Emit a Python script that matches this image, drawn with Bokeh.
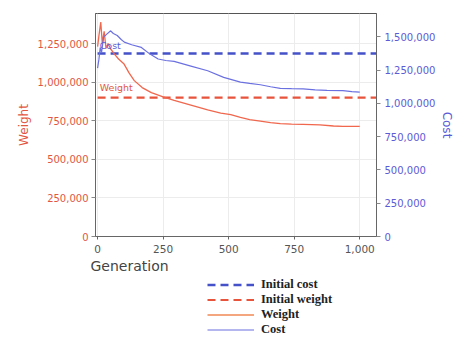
from bokeh.plotting import figure
from bokeh.layouts import column
from bokeh.models import (Range1d, LinearAxis, FixedTicker, NumeralTickFormatter,
                          Legend, LegendItem, Title, Label)
from bokeh.embed import file_html
from bokeh.resources import INLINE

# ---- data ----
gen_weight = [0, 5, 12, 18, 25, 32, 40, 50, 65, 80, 100, 120, 140, 170, 205, 250, 292,
              356, 420, 470, 508, 545, 580, 621, 660, 697, 740, 784, 848, 900, 936, 970, 1000]
weight = [1230000, 1300000, 1390000, 1250000, 1330000, 1220000, 1250000, 1215000, 1180000,
          1150000, 1120000, 1060000, 1010000, 965000, 932000, 905000, 882000, 851000, 820000,
          800000, 790000, 772000, 758000, 748000, 738000, 731000, 728000, 727000, 723000,
          716000, 713000, 714000, 714000]
gen_cost = [0, 5, 10, 15, 23, 35, 50, 60, 75, 90, 102, 130, 167, 200, 231, 260, 292, 356,
            420, 481, 545, 580, 621, 660, 697, 740, 784, 830, 875, 936, 970, 1000]
cost = [1265000, 1330000, 1420000, 1380000, 1498000, 1520000, 1545000, 1525000, 1510000,
        1480000, 1460000, 1440000, 1420000, 1370000, 1333000, 1322000, 1315000, 1280000,
        1245000, 1195000, 1160000, 1150000, 1140000, 1125000, 1113000, 1110000, 1109000,
        1102000, 1098000, 1095000, 1088000, 1085000]
initial_cost = 1375000
initial_weight = 900000
x_ticks = [0, 250, 500, 750, 1000]
weight_ticks = [0, 250000, 500000, 750000, 1000000, 1250000]
cost_ticks = [0, 250000, 500000, 750000, 1000000, 1250000, 1500000]
legend_labels = ["Initial cost", "Initial weight", "Weight", "Cost"]

X_START, X_END = -8, 1064
W_MAX = 1445000
C_MAX = 1675000

RED = "#e2573f"
RED_LINE = "#f0674d"
BLUE = "#5b5bd6"
BLUE_LINE = "#6b70e0"
BLUE_DASH = "#4451c8"
RED_DASH = "#e8533c"
ORANGE_LEG = "#f08a55"

p = figure(width=457, height=278, output_backend="svg", toolbar_location=None,
           x_range=Range1d(X_START, X_END), y_range=Range1d(0, W_MAX),
           min_border_left=95, min_border_right=79, min_border_top=13,
           min_border_bottom=42)
p.extra_y_ranges = {"cost": Range1d(0, C_MAX)}
p.background_fill_color = "white"
p.border_fill_color = "white"
p.outline_line_color = "#555555"
p.outline_line_width = 1

p.xgrid.grid_line_color = "#ececec"
p.ygrid.grid_line_color = "#ececec"

# x axis
xa = p.xaxis[0]
xa.ticker = FixedTicker(ticks=x_ticks)
xa.formatter = NumeralTickFormatter(format="0,0")
xa.major_label_text_font = "DejaVu Sans"
xa.major_label_text_font_size = "10.5px"
xa.major_label_text_color = "#555555"
xa.minor_tick_line_color = None
xa.major_tick_out = 3
xa.major_tick_in = 0
xa.major_label_standoff = 5
xa.axis_line_color = "#666666"
xa.major_tick_line_color = "#666666"

# left (weight) axis
ya = p.yaxis[0]
ya.ticker = FixedTicker(ticks=weight_ticks)
ya.formatter = NumeralTickFormatter(format="0,0")
ya.axis_label = "Weight"
ya.axis_label_text_font = "DejaVu Sans"
ya.axis_label_text_font_size = "12px"
ya.axis_label_text_font_style = "normal"
ya.axis_label_text_color = RED
ya.axis_label_standoff = 4
ya.major_label_text_font = "DejaVu Sans"
ya.major_label_text_font_size = "10px"
ya.major_label_text_color = RED
ya.minor_tick_line_color = None
ya.major_tick_out = 4
ya.major_tick_in = 0
ya.major_label_standoff = 3
ya.axis_line_color = "#666666"
ya.major_tick_line_color = "#888888"

# right (cost) axis
ra = LinearAxis(y_range_name="cost", ticker=FixedTicker(ticks=cost_ticks),
                formatter=NumeralTickFormatter(format="0,0"))
ra.axis_label = "Cost"
ra.axis_label_text_font = "DejaVu Sans"
ra.axis_label_text_font_size = "12px"
ra.axis_label_text_font_style = "normal"
ra.axis_label_text_color = BLUE
ra.axis_label_standoff = 2
ra.major_label_text_font = "DejaVu Sans"
ra.major_label_text_font_size = "10px"
ra.major_label_text_color = BLUE
ra.minor_tick_line_color = None
ra.major_tick_out = 4
ra.major_tick_in = 0
ra.major_label_standoff = 4
ra.axis_line_color = "#666666"
ra.major_tick_line_color = "#888888"
p.add_layout(ra, "right")

# lines
p.line([gen_cost[0], X_END], [initial_cost, initial_cost], y_range_name="cost",
       line_color=BLUE_DASH, line_width=2.5, line_dash="8 5")
p.line([gen_weight[0], X_END], [initial_weight, initial_weight],
       line_color=RED_DASH, line_width=2.2, line_dash="8 5")
p.line(gen_weight, weight, line_color=RED_LINE, line_width=1.3)
p.line(gen_cost, cost, y_range_name="cost", line_color=BLUE_LINE, line_width=1.2)

# in-plot labels
p.add_layout(Label(x=8, y=1237000, text="Cost", text_color=BLUE, text_font="DejaVu Sans",
                   text_font_size="9.5px", text_baseline="middle"))
p.add_layout(Label(x=8, y=968000, text="Weight", text_color=RED, text_font="DejaVu Sans",
                   text_font_size="9.5px", text_baseline="middle"))

# x axis title, left aligned
p.add_layout(Title(text="Generation", align="left", text_font="DejaVu Sans",
                   text_font_size="14px", text_font_style="normal", text_color="#444444",
                   offset=-5, standoff=0), "below")

# ---- legend strip below the chart ----
pl = figure(width=457, height=59, output_backend="svg", toolbar_location=None,
            x_range=Range1d(0, 1), y_range=Range1d(0, 1),
            x_axis_location=None, y_axis_location=None,
            min_border=0, outline_line_color=None)
pl.xgrid.visible = False
pl.ygrid.visible = False
leg_styles = [dict(line_color=BLUE_DASH, line_width=2.5, line_dash="8 5"),
              dict(line_color=RED_DASH, line_width=2.2, line_dash="8 5"),
              dict(line_color=ORANGE_LEG, line_width=1.3),
              dict(line_color=BLUE_LINE, line_width=1.2)]
items = []
for lab, st in zip(legend_labels, leg_styles):
    r = pl.line(x=[float("nan")], y=[float("nan")], **st)
    items.append(LegendItem(label=lab, renderers=[r]))

legend = Legend(items=items, location=(112, 0), orientation="vertical",
                border_line_color=None, background_fill_alpha=0,
                label_text_font="Liberation Serif", label_text_font_style="bold",
                label_text_font_size="12.5px", label_text_color="#222222",
                glyph_width=47, glyph_height=13, label_height=13, spacing=-2,
                padding=1, margin=0, label_standoff=7)
pl.add_layout(legend)

layout = column(p, pl, spacing=0)
open("out.html", "w").write(file_html(layout, INLINE))
